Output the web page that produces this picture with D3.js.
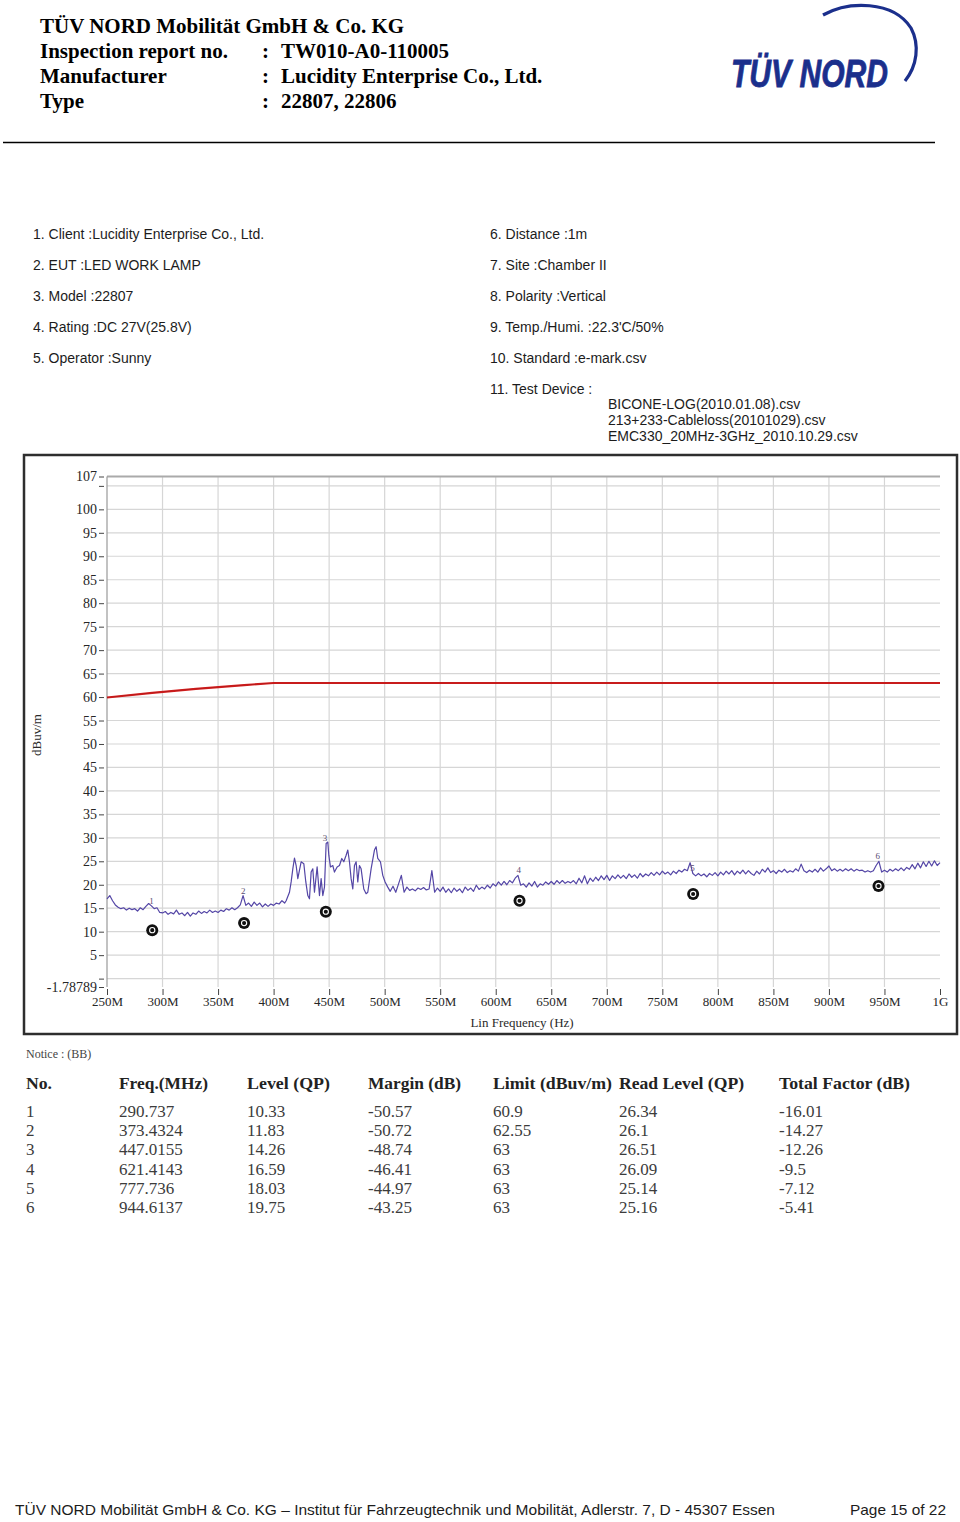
<!DOCTYPE html>
<html>
<head>
<meta charset="utf-8">
<script src="https://cdn.jsdelivr.net/npm/d3@7"></script>
<style>
body { margin: 0; background: #fff; }
svg { display: block; }
.hdr { font-family: 'Liberation Serif', 'Times New Roman', serif; font-weight: bold; font-size: 21px; fill: #000; }
.info { font-family: 'Liberation Sans', Arial, sans-serif; font-size: 14px; fill: #1c1c1c; }
.chart-label { font-family: 'Liberation Serif', 'Times New Roman', serif; font-size: 13px; fill: #2a2a2a; }
.tick line { stroke: #444; }
.tbl-head { font-family: 'Liberation Serif', 'Times New Roman', serif; font-weight: bold; font-size: 16px; fill: #222; }
.tbl-cell { font-family: 'Liberation Serif', 'Times New Roman', serif; font-size: 17px; fill: #3c3c3c; }
.foot { font-family: 'Liberation Sans', Arial, sans-serif; font-size: 15px; fill: #1c1c1c; }
</style>
</head>
<body>
<svg id="page" width="960" height="1522"></svg>
<script>
'use strict';

// ---- page text ----
var companyName = 'TÜV NORD Mobilität GmbH & Co. KG';
var headerLabels = ['Inspection report no.', 'Manufacturer', 'Type'];
var headerValues = ['TW010-A0-110005', 'Lucidity Enterprise Co., Ltd.', '22807, 22806'];

var infoLeft = [
    '1. Client :Lucidity Enterprise Co., Ltd.',
    '2. EUT :LED WORK LAMP',
    '3. Model :22807',
    '4. Rating :DC 27V(25.8V)',
    '5. Operator :Sunny'
];
var infoRight = [
    '6. Distance :1m',
    '7. Site :Chamber II',
    '8. Polarity :Vertical',
    "9. Temp./Humi. :22.3'C/50%",
    '10. Standard :e-mark.csv',
    '11. Test Device :'
];
var testDevices = [
    'BICONE-LOG(2010.01.08).csv',
    '213+233-Cableloss(20101029).csv',
    'EMC330_20MHz-3GHz_2010.10.29.csv'
];

// ---- axes ----
var yDomain = [-1.78789, 107];
var yTickValues = [-1.78789, 0, 5, 10, 15, 20, 25, 30, 35, 40, 45, 50, 55, 60, 65, 70, 75, 80, 85, 90, 95, 100, 105, 107];
var yLabelValues = [-1.78789, 5, 10, 15, 20, 25, 30, 35, 40, 45, 50, 55, 60, 65, 70, 75, 80, 85, 90, 95, 100, 107];
var yGridValues = [0, 5, 10, 15, 20, 25, 30, 35, 40, 45, 50, 55, 60, 65, 70, 75, 80, 85, 90, 95, 100, 105];
var xDomain = [250, 1000];
var xTickValues = [250, 300, 350, 400, 450, 500, 550, 600, 650, 700, 750, 800, 850, 900, 950, 1000];
var xTickLabels = ['250M', '300M', '350M', '400M', '450M', '500M', '550M', '600M', '650M', '700M', '750M', '800M', '850M', '900M', '950M', '1G'];
var xGridValues = [300, 350, 400, 450, 500, 550, 600, 650, 700, 750, 800, 850, 900, 950];

// ---- limit line (e-mark) ----
var limitFreq = [250, 290.737, 330, 373.4324, 400, 1000];
var limitLevel = [59.9, 60.9, 61.75, 62.55, 63, 63];

// ---- peak trace [MHz, dBuV/m] ----
var trace = [
    [250, 17.0], [252.5, 17.7], [255, 16.6], [257.5, 15.7], [260, 15.2], [262.5, 14.9], [265, 15.1], [267.5, 14.6],
    [270, 15.0], [272.5, 14.7], [275, 14.9], [277.5, 14.4], [280, 15.1], [282.5, 14.7], [285, 15.4], [287.5, 16.0],
    [290, 15.5], [292.5, 14.9], [295, 15.1], [297.5, 14.1], [300, 14.0], [302.5, 14.3], [305, 13.7], [307.5, 14.1],
    [310, 13.8], [312.5, 14.6], [315, 13.7], [317.5, 14.0], [320, 13.4], [322.5, 14.1], [325, 13.3], [327.5, 14.0],
    [330, 13.7], [332.5, 14.4], [335, 13.9], [337.5, 14.3], [340, 14.0], [342.5, 14.6], [345, 14.1], [347.5, 14.4],
    [350, 14.1], [352.5, 14.6], [355, 14.3], [357.5, 14.9], [360, 14.6], [362.5, 15.1], [365, 14.7], [367.5, 15.1],
    [370, 15.7], [372.5, 17.7], [375, 15.6], [377.5, 16.1], [380, 15.4], [382.5, 16.3], [385, 15.6], [387.5, 16.1],
    [390, 15.3], [392.5, 15.9], [395, 15.4], [397.5, 15.9], [400, 15.6], [402.5, 16.1], [405, 15.9], [407.5, 16.6],
    [410, 16.1], [411.3, 16.6], [414.3, 18.4], [415.8, 20.6], [417.3, 23.4], [418.8, 25.7], [420.3, 24.1], [421.8, 21.3],
    [423.3, 23.1], [424.8, 24.9], [427.2, 24.5], [429.0, 20.6], [430.8, 17.7], [432.3, 17.0], [433.8, 22.7], [435.3, 23.4],
    [436.8, 18.4], [439.2, 23.8], [441.3, 17.7], [442.8, 21.3], [444.3, 17.7], [445.8, 19.5], [447.3, 28.8], [448.8, 29.1],
    [449.7, 26.3], [451.2, 23.8], [453.3, 24.1], [454.8, 22.7], [457.2, 23.8], [459.3, 24.1], [461.4, 25.6], [463.2, 24.9],
    [465.3, 26.3], [466.8, 27.4], [468.3, 24.9], [469.8, 21.3], [471.3, 19.1], [472.8, 24.1], [474.3, 24.9], [475.8, 20.6],
    [477.3, 24.1], [478.8, 23.4], [481.2, 19.1], [483.3, 18.1], [484.8, 18.4], [487.8, 23.4], [490.8, 27.4], [492.3, 28.1],
    [493.8, 25.6], [496.2, 24.9], [498.3, 22.0], [500.4, 20.6], [502.8, 19.5], [505, 18.6], [507.5, 19.7], [510, 18.4],
    [512.5, 20.2], [515, 22.0], [517.5, 18.4], [520, 19.5], [522.5, 18.8], [525, 19.1], [527.5, 18.7], [530, 19.3],
    [532.5, 19.0], [535, 19.4], [537.5, 18.9], [540, 19.1], [542.5, 23.0], [545, 18.4], [547.5, 19.3], [550, 18.6],
    [552.5, 19.5], [555, 18.4], [557.5, 19.1], [560, 18.3], [562.5, 19.3], [565, 18.6], [567.5, 19.1], [570, 18.3],
    [572.5, 19.5], [575, 18.8], [577.5, 19.3], [580, 18.6], [582.5, 19.9], [585, 19.0], [587.5, 19.5], [590, 19.1],
    [592.5, 19.9], [595, 19.3], [597.5, 20.2], [600, 19.7], [602.5, 20.6], [605, 19.9], [607.5, 20.7], [610, 20.0],
    [612.5, 20.9], [615, 20.4], [617.5, 21.4], [620, 22.0], [622.5, 19.9], [625, 20.2], [627.5, 19.5], [630, 20.4],
    [632.5, 19.7], [635, 20.7], [637.5, 19.5], [640, 20.2], [642.5, 19.9], [645, 20.6], [647.5, 20.1], [650, 20.7],
    [652.5, 20.1], [655, 20.9], [657.5, 20.3], [660, 20.9], [662.5, 20.3], [665, 20.7], [667.5, 20.4], [670, 20.9],
    [672.5, 20.2], [675, 21.4], [677.5, 20.4], [680, 21.9], [682.5, 20.2], [685, 21.4], [687.5, 20.7], [690, 21.6],
    [692.5, 20.9], [695, 21.9], [697.5, 21.1], [700, 22.0], [702.5, 20.9], [705, 21.9], [707.5, 21.3], [710, 22.1],
    [712.5, 21.4], [715, 22.0], [717.5, 21.3], [720, 22.3], [722.5, 21.6], [725, 22.1], [727.5, 21.4], [730, 22.4],
    [732.5, 21.7], [735, 22.3], [737.5, 21.9], [740, 22.6], [742.5, 22.0], [745, 22.7], [747.5, 22.1], [750, 22.9],
    [752.5, 22.3], [755, 22.7], [757.5, 22.1], [760, 22.9], [762.5, 22.4], [765, 23.1], [767.5, 22.7], [770, 23.3],
    [772.5, 23.0], [775, 24.7], [777.5, 22.4], [780, 21.9], [782.5, 22.4], [785, 21.9], [787.5, 22.3], [790, 21.7],
    [792.5, 22.4], [795, 22.0], [797.5, 22.6], [800, 21.9], [802.5, 22.7], [805, 22.1], [807.5, 22.9], [810, 22.3],
    [812.5, 23.0], [815, 22.1], [817.5, 22.9], [820, 22.4], [822.5, 23.1], [825, 22.3], [827.5, 23.0], [830, 22.4],
    [832.5, 22.0], [835, 22.9], [837.5, 22.3], [840, 23.3], [842.5, 22.7], [845, 23.6], [847.5, 22.6], [850, 23.0],
    [852.5, 22.4], [855, 23.1], [857.5, 22.7], [860, 23.3], [862.5, 22.6], [865, 23.0], [867.5, 22.7], [870, 23.4],
    [872.5, 22.9], [875, 24.4], [877.5, 23.0], [880, 22.6], [882.5, 23.1], [885, 22.7], [887.5, 23.3], [890, 22.7],
    [892.5, 23.6], [895, 22.9], [897.5, 23.4], [900, 24.0], [902.5, 23.0], [905, 23.4], [907.5, 22.9], [910, 23.3],
    [912.5, 22.9], [915, 23.4], [917.5, 23.0], [920, 23.4], [922.5, 22.9], [925, 23.3], [927.5, 23.0], [930, 23.1],
    [932.5, 22.7], [935, 23.0], [937.5, 22.7], [940, 23.0], [942.5, 24.1], [945, 25.0], [947.5, 22.7], [950, 23.1],
    [952.5, 22.7], [955, 23.3], [957.5, 22.9], [960, 23.4], [962.5, 23.0], [965, 23.6], [967.5, 23.0], [970, 23.7],
    [972.5, 23.3], [975, 24.3], [977.5, 23.4], [980, 24.6], [982.5, 23.6], [985, 24.9], [987.5, 23.9], [990, 25.0],
    [992.5, 24.0], [995, 25.1], [997.5, 24.1], [1000, 24.7]
];

// ---- QP measurement table ----
var markerNo = [1, 2, 3, 4, 5, 6];
var markerFreq = [290.737, 373.4324, 447.0155, 621.4143, 777.736, 944.6137];
var markerLevel = [10.33, 11.83, 14.26, 16.59, 18.03, 19.75];
var markerMargin = [-50.57, -50.72, -48.74, -46.41, -44.97, -43.25];
var markerLimit = [60.9, 62.55, 63, 63, 63, 63];
var markerRead = [26.34, 26.1, 26.51, 26.09, 25.14, 25.16];
var markerFactor = [-16.01, -14.27, -12.26, -9.5, -7.12, -5.41];
var tableHeaders = ['No.', 'Freq.(MHz)', 'Level (QP)', 'Margin (dB)', 'Limit (dBuv/m)', 'Read Level (QP)', 'Total Factor (dB)'];

var footerLeft = 'TÜV NORD Mobilität GmbH & Co. KG \u2013 Institut für Fahrzeugtechnik und Mobilität, Adlerstr. 7, D - 45307 Essen';
var footerRight = 'Page 15 of 22';


var svg = d3.select('#page');

// ---------- letterhead ----------
var head = svg.append('g');
head.append('text').attr('class', 'hdr').attr('x', 40).attr('y', 33).text(companyName);
headerLabels.forEach(function(label, i) {
    var yy = 58 + i * 25;
    head.append('text').attr('class', 'hdr').attr('x', 40).attr('y', yy).text(label);
    head.append('text').attr('class', 'hdr').attr('x', 262).attr('y', yy).text(':');
    head.append('text').attr('class', 'hdr').attr('x', 281).attr('y', yy).text(headerValues[i]);
});

// logo
var logo = svg.append('g');
logo.append('path')
    .attr('d', 'M823,15 C848,1 893,0 911,28 C920,45 917,66 905,81')
    .attr('fill', 'none')
    .attr('stroke', '#1b2f8c')
    .attr('stroke-width', 3.2);
logo.append('text')
    .attr('x', 731).attr('y', 87)
    .attr('textLength', 157).attr('lengthAdjust', 'spacingAndGlyphs')
    .style('font-family', "'Liberation Sans', Arial, sans-serif")
    .style('font-weight', 'bold').style('font-style', 'italic')
    .style('font-size', '38px').style('fill', '#1b2f8c')
    .style('stroke', '#1b2f8c').style('stroke-width', 0.8)
    .text('TÜV NORD');

head.append('line')
    .attr('x1', 3).attr('x2', 935).attr('y1', 142.5).attr('y2', 142.5)
    .attr('stroke', '#000').attr('stroke-width', 1.5);

// ---------- test info ----------
var info = svg.append('g');
info.selectAll('text.left').data(infoLeft).enter().append('text')
    .attr('class', 'info left').attr('x', 33).attr('y', function(d, i) { return 239 + i * 31; })
    .text(function(d) { return d; });
info.selectAll('text.right').data(infoRight).enter().append('text')
    .attr('class', 'info right').attr('x', 490).attr('y', function(d, i) { return 239 + i * 31; })
    .text(function(d) { return d; });
info.selectAll('text.dev').data(testDevices).enter().append('text')
    .attr('class', 'info dev').attr('x', 608).attr('y', function(d, i) { return 409 + i * 16; })
    .text(function(d) { return d; });

// ---------- chart ----------
svg.append('rect')
    .attr('x', 24).attr('y', 455).attr('width', 933).attr('height', 579)
    .attr('fill', '#fff').attr('stroke', '#2e2e2e').attr('stroke-width', 2.5);

var x = d3.scaleLinear().domain(xDomain).range([107, 940]);
var y = d3.scaleLinear().domain(yDomain).range([987, 476.5]);

var grid = svg.append('g');
grid.selectAll('line.h').data(yGridValues).enter().append('line')
    .attr('x1', x(250)).attr('x2', x(1000))
    .attr('y1', function(d) { return y(d); }).attr('y2', function(d) { return y(d); })
    .attr('stroke', '#d6d6d6').attr('stroke-width', 1.2);
grid.selectAll('line.v').data(xGridValues).enter().append('line')
    .attr('x1', function(d) { return x(d); }).attr('x2', function(d) { return x(d); })
    .attr('y1', y(107)).attr('y2', y(yDomain[0]))
    .attr('stroke', '#d6d6d6').attr('stroke-width', 1.2);
// top boundary of the plot
grid.append('line')
    .attr('x1', x(250)).attr('x2', x(1000)).attr('y1', y(107)).attr('y2', y(107))
    .attr('stroke', '#aaa').attr('stroke-width', 2);
// left axis line
grid.append('line')
    .attr('x1', x(250)).attr('x2', x(250)).attr('y1', y(107)).attr('y2', y(yDomain[0]))
    .attr('stroke', '#999').attr('stroke-width', 1.2);

var yAxis = d3.axisLeft(y)
    .tickValues(yTickValues)
    .tickSize(5)
    .tickPadding(2)
    .tickFormat(function(d) { return yLabelValues.indexOf(d) >= 0 ? String(d) : ''; });
var yAxisG = svg.append('g').attr('transform', 'translate(104,0)').call(yAxis)
    .call(function(g) { g.select('.domain').remove(); });
yAxisG.selectAll('.tick text')
    .attr('fill', '#262626').style('font-size', '14px')
    .style('font-family', "'Liberation Serif', 'Times New Roman', serif");

var xAxis = d3.axisBottom(x)
    .tickValues(xTickValues)
    .tickSize(6)
    .tickPadding(2)
    .tickFormat(function(d, i) { return xTickLabels[i]; });
var xAxisG = svg.append('g').attr('transform', 'translate(0,989)').call(xAxis)
    .call(function(g) { g.select('.domain').remove(); });
xAxisG.selectAll('.tick text')
    .attr('fill', '#262626').style('font-size', '13px')
    .style('font-family', "'Liberation Serif', 'Times New Roman', serif");

svg.append('text').attr('class', 'chart-label')
    .attr('transform', 'translate(41,735) rotate(-90)')
    .attr('text-anchor', 'middle')
    .text('dBuv/m');
svg.append('text').attr('class', 'chart-label')
    .attr('x', 522).attr('y', 1027).attr('text-anchor', 'middle')
    .text('Lin Frequency (Hz)');

// limit line
var limitLine = d3.line()
    .x(function(d, i) { return x(limitFreq[i]); })
    .y(function(d) { return y(d); });
svg.append('path').datum(limitLevel)
    .attr('d', limitLine)
    .attr('fill', 'none').attr('stroke', '#d81f1f').attr('stroke-width', 2.2);
svg.append('path').datum(limitLevel)
    .attr('d', limitLine)
    .attr('fill', 'none').attr('stroke', '#8e1414').attr('stroke-width', 0.7).attr('opacity', 0.6);

// peak trace
var traceLine = d3.line()
    .x(function(d) { return x(d[0]); })
    .y(function(d) { return y(d[1]); });
svg.append('path').datum(trace)
    .attr('d', traceLine)
    .attr('fill', 'none').attr('stroke', '#5446a6').attr('stroke-width', 1.2)
    .attr('stroke-linejoin', 'round');

// small peak numbers above the trace
function traceAt(f) {
    var i = d3.bisector(function(d) { return d[0]; }).left(trace, f);
    var a = trace[Math.max(0, i - 1)], b = trace[Math.min(trace.length - 1, i)];
    return Math.max(a[1], b[1]);
}
svg.selectAll('text.peak').data(markerNo).enter().append('text')
    .attr('class', 'peak')
    .attr('x', function(d, i) { return x(markerFreq[i]) - 3; })
    .attr('y', function(d, i) { return y(traceAt(markerFreq[i])) - 2; })
    .style('font-family', "'Liberation Serif', serif")
    .style('font-size', '9px')
    .style('fill', '#5a4d72')
    .text(function(d) { return d; });

// QP markers
var marks = svg.selectAll('g.qp').data(markerNo).enter().append('g')
    .attr('class', 'qp')
    .attr('transform', function(d, i) { return 'translate(' + x(markerFreq[i]) + ',' + y(markerLevel[i]) + ')'; });
marks.append('circle').attr('r', 6).attr('fill', '#111');
marks.append('circle').attr('r', 2.6).attr('fill', 'none').attr('stroke', '#fff').attr('stroke-width', 1.1);

// ---------- table ----------
svg.append('text')
    .attr('x', 26).attr('y', 1058)
    .style('font-family', "'Liberation Serif', serif").style('font-size', '12px').style('fill', '#444')
    .text('Notice : (BB)');

var colX = [26, 119, 247, 368, 493, 619, 779];
var colW = [26, 89, 83, 93, 119, 125, 131];
var rowY = d3.scaleLinear().domain([0, 5]).range([1117, 1213]);

svg.selectAll('text.tbl-head').data(tableHeaders).enter().append('text')
    .attr('class', 'tbl-head')
    .attr('x', function(d, i) { return colX[i]; })
    .attr('y', 1089)
    .attr('textLength', function(d, i) { return colW[i]; })
    .attr('lengthAdjust', 'spacingAndGlyphs')
    .text(function(d) { return d; });

var columns = [markerNo, markerFreq, markerLevel, markerMargin, markerLimit, markerRead, markerFactor];
columns.forEach(function(col, c) {
    svg.selectAll('text.col' + c).data(col).enter().append('text')
        .attr('class', 'tbl-cell col' + c)
        .attr('x', colX[c])
        .attr('y', function(d, i) { return rowY(i); })
        .text(function(d) { return String(d); });
});

// ---------- footer ----------
svg.append('text').attr('class', 'foot')
    .attr('x', 15).attr('y', 1515)
    .attr('textLength', 760).attr('lengthAdjust', 'spacingAndGlyphs')
    .text(footerLeft);
svg.append('text').attr('class', 'foot')
    .attr('x', 850).attr('y', 1515)
    .attr('textLength', 96).attr('lengthAdjust', 'spacingAndGlyphs')
    .text(footerRight);
</script>
</body>
</html>
